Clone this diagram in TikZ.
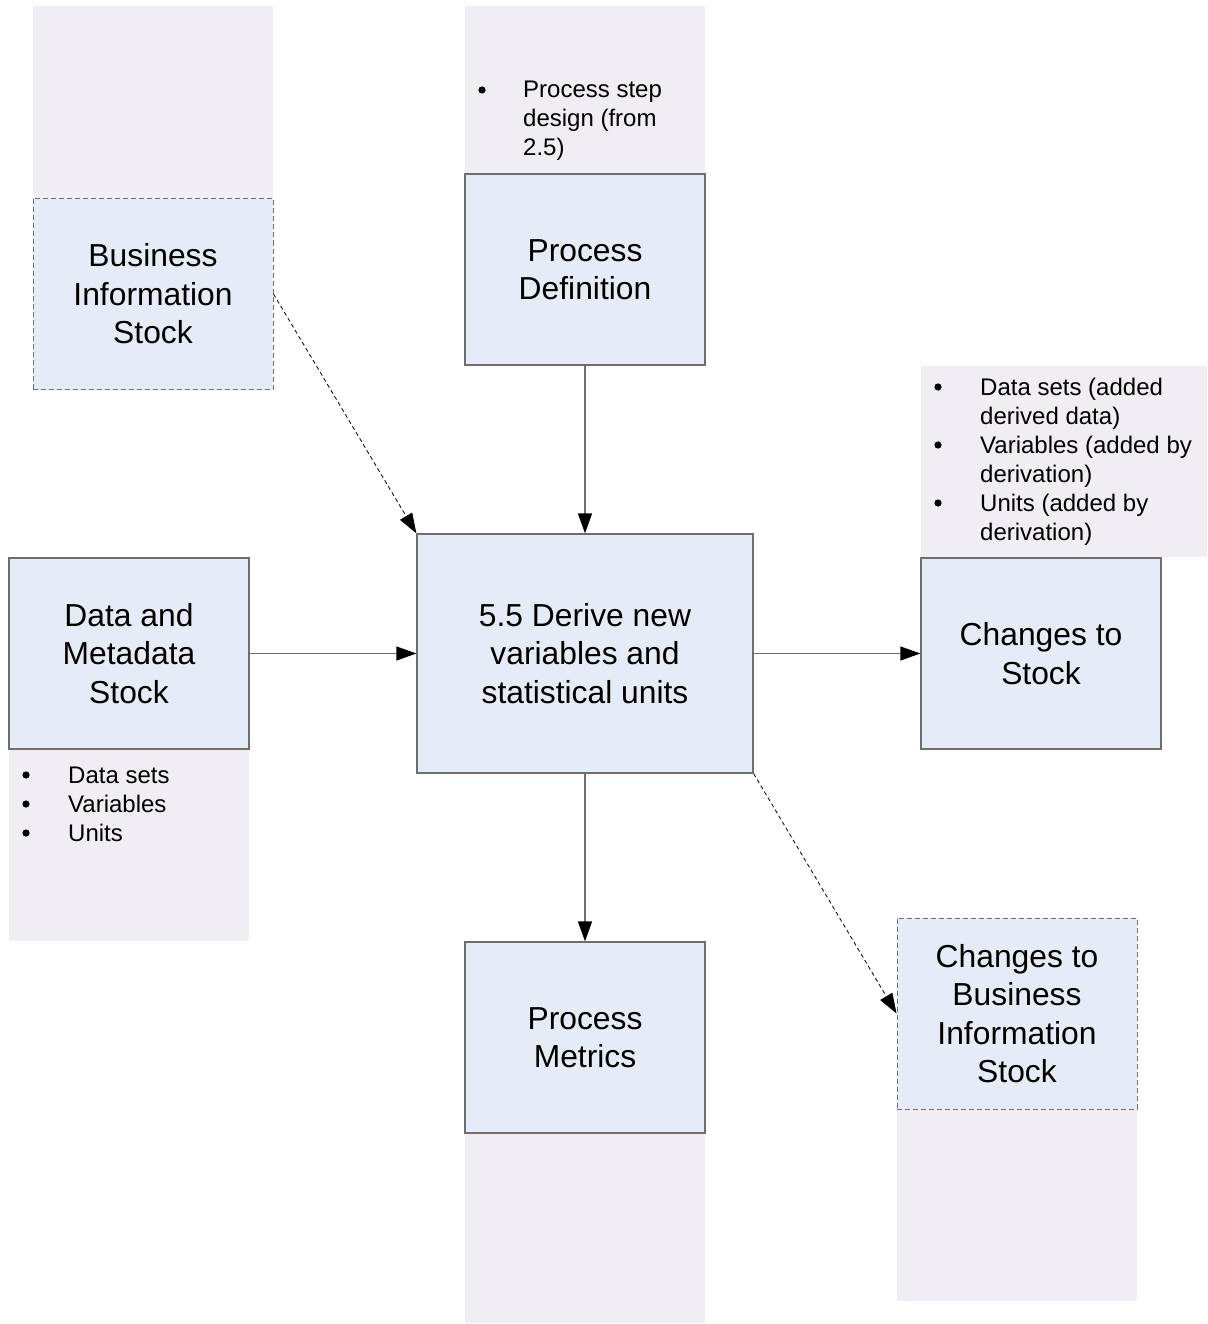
\documentclass[tikz,border=0pt]{standalone}
\usepackage{fontspec}
\setmainfont{Liberation Sans}
\usetikzlibrary{arrows.meta}
\definecolor{boxblue}{HTML}{E6ECF7}
\definecolor{panelgrey}{HTML}{F0EEF3}
\definecolor{bordergrey}{HTML}{6E6E6E}
\newcommand{\bigbul}{\hspace*{2.2pt}\tikz[baseline=-8pt]\fill[black] (0,0) circle (3.6pt);}
\begin{document}
\begin{tikzpicture}[x=1pt,y=-1pt,
  box/.style={draw=bordergrey, line width=1.3pt, fill=boxblue, minimum width=240pt, minimum height=191pt, inner sep=0pt, align=center, font=\fontsize{31.8}{38.5}\selectfont},
  dbox/.style={box, line width=1pt, dash pattern=on 5pt off 3pt},
  panel/.style={fill=panelgrey, draw=none},
  blist/.style={anchor=base west, inner sep=0pt, font=\fontsize{24}{29}\selectfont},
  flow/.style={draw=bordergrey, line width=1.3pt, -{Triangle[length=20pt,width=14pt,color=black]}},
  dflow/.style={draw=black, line width=0.8pt, dash pattern=on 4pt off 3pt, -{Triangle[length=20pt,width=14pt,color=black]}}]
\useasboundingbox (0,0) rectangle (1207,1324);
\fill[white] (0,0) rectangle (1207,1324);
% panels
\path[panel] (33,6) rectangle (273,390);
\path[panel] (465,6) rectangle (705,365);
\path[panel] (9,749) rectangle (249,941);
\path[panel] (921,366) rectangle (1207,557);
\path[panel] (465,1133) rectangle (705,1323);
\path[panel] (897,1109) rectangle (1137,1301);
% boxes
\node[dbox] (bis) at (153,294) {Business\\Information\\Stock};
\node[box] (pd) at (585,269.5) {Process\\Definition};
\node[box] (dms) at (129,653.5) {Data and\\Metadata\\Stock};
\node[box, minimum width=336pt, minimum height=239pt] (main) at (585,653.5) {5.5 Derive new\\variables and\\statistical units};
\node[box] (cts) at (1041,653.5) {Changes to\\Stock};
\node[box] (pm) at (585,1037.5) {Process\\Metrics};
\node[dbox] (cbis) at (1017,1013.5) {Changes to\\Business\\Information\\Stock};
% lists
\node[blist] (pdl) at (476,98) {\begin{tabular}[t]{@{}p{47pt}@{}l@{}}\bigbul & Process step\\ & design (from\\ & 2.5)\end{tabular}};
\node[blist] (dmsl) at (20,783) {\begin{tabular}[t]{@{}p{48pt}@{}l@{}}\bigbul & Data sets\\ \bigbul & Variables\\ \bigbul & Units\end{tabular}};
\node[blist] (ctsl) at (932,395) {\begin{tabular}[t]{@{}p{48pt}@{}l@{}}\bigbul & Data sets (added\\ & derived data)\\ \bigbul & Variables (added by\\ & derivation)\\ \bigbul & Units (added by\\ & derivation)\end{tabular}};
% connectors
\draw[dflow] (bis.east) -- (main.north west);
\draw[flow] (pd.south) -- (main.north);
\draw[flow] (dms.east) -- (main.west);
\draw[flow] (main.east) -- (cts.west);
\draw[flow] (main.south) -- (pm.north);
\draw[dflow] (main.south east) -- (cbis.west);
\end{tikzpicture}
\end{document}
